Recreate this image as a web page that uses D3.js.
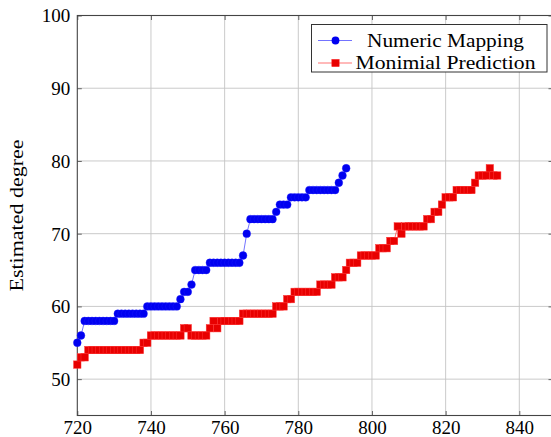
<!DOCTYPE html>
<html><head><meta charset="utf-8">
<script src="https://cdn.jsdelivr.net/npm/d3@7"></script>
<style>html,body{margin:0;padding:0;background:#fff;}svg{display:block;}</style>
</head><body>
<svg id="chart" width="551" height="437"></svg>
<script>
// ---- data ----
const seriesNames = ["Numeric Mapping", "Monimial Prediction"];
const blueX = [720,721,722,723,724,725,726,727,728,729,730,731,732,733,734,735,736,737,738,739,
740,741,742,743,744,745,746,747,748,749,750,751,752,753,754,755,756,757,758,759,
760,761,762,763,764,765,766,767,768,769,770,771,772,773,774,775,776,777,778,779,
780,781,782,783,784,785,786,787,788,789,790,791,792,793];
const blueY = [55,56,
58,58,58,58,58,58,58,58,58,
59,59,59,59,59,59,59,59,
60,60,60,60,60,60,60,60,60,
61,62,62,63,
65,65,65,65,
66,66,66,66,66,66,66,66,66,
67,70,
72,72,72,72,72,72,72,
73,74,74,74,
75,75,75,75,75,
76,76,76,76,76,76,76,76,
77,78,79];
const redX = [720,721,722,723,724,725,726,727,728,729,730,731,732,733,734,735,736,737,738,739,
740,741,742,743,744,745,746,747,748,749,750,751,752,753,754,755,756,757,758,759,
760,761,762,763,764,765,766,767,768,769,770,771,772,773,774,775,776,777,778,779,
780,781,782,783,784,785,786,787,788,789,790,791,792,793,794,795,796,797,798,799,
800,801,802,803,804,805,806,807,808,809,810,811,812,813,814,815,816,817,818,819,
820,821,822,823,824,825,826,827,828,829,830,831,832,833,834];
const redY = [52,53,53,
54,54,54,54,54,54,54,54,54,54,54,54,54,54,54,
55,55,
56,56,56,56,56,56,56,56,56,
57,57,
56,56,56,56,56,
57,58,57,
58,58,58,58,58,58,
59,59,59,59,59,59,59,59,59,
60,60,60,
61,61,
62,62,62,62,62,62,62,
63,63,63,63,
64,64,64,
65,
66,66,66,
67,67,67,67,67,
68,68,68,
69,69,
71,70,
71,71,71,71,71,71,
72,72,73,73,74,
75,75,75,
76,76,76,76,76,
77,78,78,78,79,78,78];
const xTicks = [720,740,760,780,800,820,840];
const yTicks = [50,60,70,80,90,100];
const yLabel = "Estimated degree";

// ---- layout ----
const svg = d3.select("#chart");
const L = 77.3, T = 15.5, B = 415.5, R = 553;
const x = d3.scaleLinear().domain([720, 840]).range([L, 519.3]);
const y = d3.scaleLinear().domain([45, 100]).range([B, T]);
const font = "'Liberation Serif','Times New Roman',serif";

// grid
const g = svg.append("g");
g.selectAll("line.gx").data(xTicks.slice(1)).join("line").attr("class", "gx")
  .attr("x1", d => x(d)).attr("x2", d => x(d)).attr("y1", T).attr("y2", B)
  .attr("stroke", "#c4c4c4").attr("stroke-width", 0.9);
g.selectAll("line.gy").data(yTicks.slice(0, -1)).join("line").attr("class", "gy")
  .attr("x1", L).attr("x2", R).attr("y1", d => y(d)).attr("y2", d => y(d))
  .attr("stroke", "#c4c4c4").attr("stroke-width", 0.9);

// axes (ticks inward)
const axB = d3.axisBottom(x).tickValues(xTicks).tickSize(-4.5).tickPadding(5.5).tickFormat(d3.format("d"));
const axT = d3.axisTop(x).tickValues(xTicks).tickSize(-4.5).tickFormat("");
const axLft = d3.axisLeft(y).tickValues(yTicks).tickSize(-4.5).tickPadding(7).tickFormat(d3.format("d"));
const axRt = d3.axisRight(y).tickValues(yTicks).tickSize(-4.5).tickFormat("");
function style(sel){
  sel.select(".domain").remove();
  sel.selectAll(".tick line").attr("stroke", "#555").attr("stroke-width", 0.9);
  sel.selectAll(".tick text").attr("font-family", font).attr("font-size", 19).attr("fill", "#000");
}
svg.append("g").attr("transform", `translate(0,${B})`).call(axB).call(style)
  .selectAll(".tick text").attr("dy", "0.66em");
svg.append("g").attr("transform", `translate(0,${T})`).call(axT).call(style);
svg.append("g").attr("transform", `translate(${L},0)`).call(axLft).call(style)
  .selectAll(".tick text").attr("dy", "0.34em");
svg.append("g").attr("transform", `translate(${R},0)`).call(axRt).call(style);

// frame
svg.append("rect").attr("x", L).attr("y", T).attr("width", R - L).attr("height", B - T)
  .attr("fill", "none").attr("stroke", "#444").attr("stroke-width", 1.1);

// y label
svg.append("text").attr("transform", `translate(23,${(T + B) / 2}) rotate(-90)`)
  .attr("text-anchor", "middle").attr("font-family", font).attr("font-size", 19)
  .attr("textLength", 152).attr("lengthAdjust", "spacingAndGlyphs")
  .text(yLabel);

// series
const blue = blueX.map((d, i) => [d, blueY[i]]);
const red = redX.map((d, i) => [d, redY[i]]);
const line = d3.line().x(d => x(d[0])).y(d => y(d[1]));
const s = 7.4;

svg.append("path").datum(blue).attr("d", line).attr("fill", "none")
  .attr("stroke", "#0000ff").attr("stroke-opacity", 0.55).attr("stroke-width", 1);
svg.append("g").selectAll("circle").data(blue).join("circle")
  .attr("cx", d => x(d[0])).attr("cy", d => y(d[1])).attr("r", 3.9)
  .attr("fill", "#0000f0").attr("stroke", "#1a1aff").attr("stroke-width", 0.4);

svg.append("path").datum(red).attr("d", line).attr("fill", "none")
  .attr("stroke", "#ff0000").attr("stroke-opacity", 0.55).attr("stroke-width", 1);
svg.append("g").selectAll("rect").data(red).join("rect")
  .attr("x", d => x(d[0]) - s / 2).attr("y", d => y(d[1]) - s / 2)
  .attr("width", s).attr("height", s)
  .attr("fill", "#e80000").attr("stroke", "#ff3333").attr("stroke-width", 0.5);

// legend
const lg = svg.append("g");
const lx0 = 311.5, lx1 = 547, ly0 = 24.5, ly1 = 72;
lg.append("rect").attr("x", lx0).attr("y", ly0).attr("width", lx1 - lx0).attr("height", ly1 - ly0)
  .attr("fill", "#fff").attr("stroke", "#333").attr("stroke-width", 1);
const rows = [
  {name: seriesNames[0], color: "#0000ff", mark: "circle", cy: 40.5, len: 157},
  {name: seriesNames[1], color: "#ff0000", mark: "square", cy: 63, len: 180}
];
const textCenter = 445.5;
rows.forEach(r => {
  lg.append("line").attr("x1", 318).attr("x2", 352).attr("y1", r.cy).attr("y2", r.cy)
    .attr("stroke", r.color).attr("stroke-opacity", 0.55).attr("stroke-width", 1.1);
  if (r.mark === "circle") {
    lg.append("circle").attr("cx", 335.5).attr("cy", r.cy).attr("r", 3.9).attr("fill", "#0000f0");
  } else {
    lg.append("rect").attr("x", 335.5 - s / 2).attr("y", r.cy - s / 2).attr("width", s).attr("height", s)
      .attr("fill", "#e80000").attr("stroke", "#ff3333").attr("stroke-width", 0.5);
  }
  lg.append("text").attr("x", textCenter).attr("y", r.cy + 6).attr("text-anchor", "middle")
    .attr("font-family", font).attr("font-size", 19)
    .attr("textLength", r.len).attr("lengthAdjust", "spacingAndGlyphs").text(r.name);
});
</script>
</body></html>
